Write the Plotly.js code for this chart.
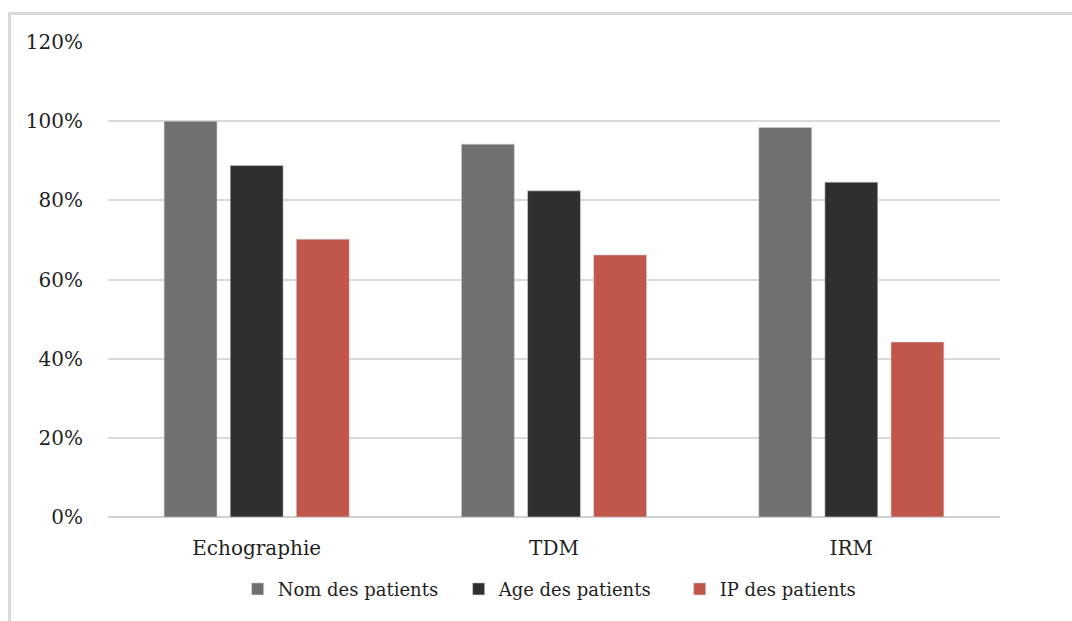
<!DOCTYPE html>
<html>
<head>
<meta charset="utf-8">
<script src="https://cdn.plot.ly/plotly-3.0.1.min.js"></script>
<style>
  html, body { margin: 0; padding: 0; background: #ffffff; }
  #frame {
    position: absolute; left: 8px; top: 12px; width: 1100px; height: 640px;
    border-left: 3px solid #d9d9d9; border-top: 3px solid #d9d9d9;
  }
  #chart { position: absolute; left: 0; top: 0; width: 1072px; height: 621px; }
</style>
</head>
<body>
<div id="frame"></div>
<div id="chart"></div>
<script>
// Imaging modalities on the x axis
const categories = ["Echographie", "TDM", "IRM"];

// Share of exams carrying each patient identifier (%)
const nomPatients = [100, 94.2, 98.4];
const agePatients = [88.8, 82.4, 84.6];
const ipPatients  = [70.2, 66.2, 44.2];

const seriesNames = ["Nom des patients", "Age des patients", "IP des patients"];
const seriesColors = ["#707070", "#2f2f2f", "#c0574a"];

const yTicks = [0, 20, 40, 60, 80, 100, 120];
const yTickLabels = ["0%", "20%", "40%", "60%", "80%", "100%", "120%"];

const fontFamily = "'DejaVu Serif', 'Liberation Serif', serif";

const traces = [nomPatients, agePatients, ipPatients].map((vals, i) => ({
  type: "bar",
  name: seriesNames[i],
  x: categories,
  y: vals,
  marker: { color: seriesColors[i], line: { color: "#d0d0d0", width: 0.6 } },
  hoverinfo: "x+y+name"
}));

const layout = {
  width: 1072,
  height: 621,
  paper_bgcolor: "rgba(0,0,0,0)",
  plot_bgcolor: "rgba(0,0,0,0)",
  margin: { l: 108, r: 72, t: 42, b: 104, autoexpand: false },
  barmode: "group",
  bargap: 0.333,
  bargroupgap: 0.2,
  font: { family: fontFamily, size: 20, color: "#1f1f1f" },
  xaxis: {
    type: "category",
    showgrid: false,
    showline: false,
    ticks: "",
    ticklabelstandoff: 17,
    tickfont: { family: fontFamily, size: 20, color: "#1f1f1f" }
  },
  yaxis: {
    range: [0, 120],
    tickvals: yTicks,
    ticktext: yTickLabels,
    showgrid: true,
    gridcolor: "#d9d9d9",
    gridwidth: 2,
    zeroline: true,
    zerolinecolor: "#d0d0d0",
    zerolinewidth: 2,
    showline: false,
    ticks: "",
    ticklabelstandoff: 24,
    tickfont: { family: fontFamily, size: 20, color: "#1f1f1f" }
  },
  showlegend: true,
  legend: {
    orientation: "h",
    x: 0.517,
    xanchor: "center",
    y: -0.152,
    yanchor: "middle",
    font: { family: fontFamily, size: 18, color: "#1f1f1f" },
    itemwidth: 30,
    entrywidth: 176,
    tracegroupgap: 0,
    bgcolor: "rgba(0,0,0,0)"
  }
};

Plotly.newPlot("chart", traces, layout, { displayModeBar: false, staticPlot: true });
</script>
</body>
</html>
